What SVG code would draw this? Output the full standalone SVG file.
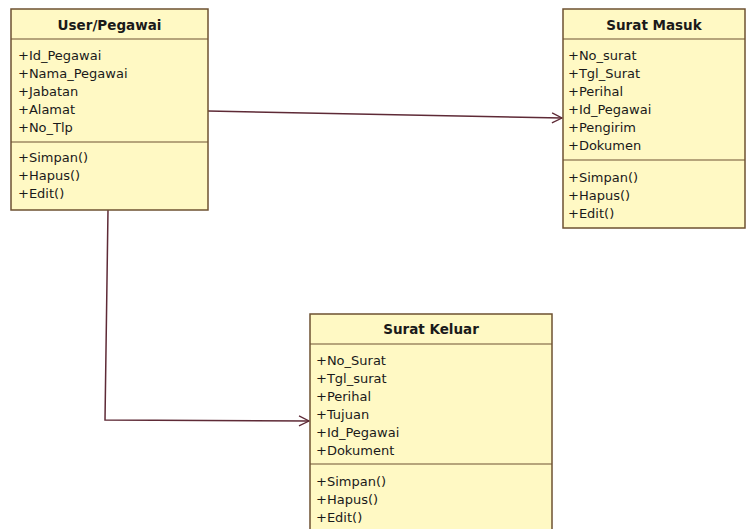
<svg xmlns="http://www.w3.org/2000/svg" width="750" height="529" viewBox="0 0 750 529">
<style>
.box{fill:#fff9c4;stroke:#6e5232;stroke-width:1.5}
.sep{stroke:#6e5232;stroke-width:1.2}
.t{font-family:"DejaVu Sans",sans-serif;font-size:13px;fill:#1a1a1a}
.h{font-family:"DejaVu Sans",sans-serif;font-size:13.5px;font-weight:bold;fill:#1a1a1a;text-anchor:middle}
.c{fill:none;stroke:#5e2a36;stroke-width:1.5}
</style>
<defs>
<marker id="arr" markerWidth="14" markerHeight="14" refX="11" refY="6" orient="auto" markerUnits="userSpaceOnUse">
<path d="M1,1 L11,6 L1,11" fill="none" stroke="#5e2a36" stroke-width="1.3"/>
</marker>
</defs>
<rect width="750" height="529" fill="#ffffff"/>
<g id="connectors">
<path class="c" d="M208,111 L562,118" marker-end="url(#arr)"/>
<path class="c" d="M108,210 L105,420 L309,421" marker-end="url(#arr)"/>
</g>
<g id="user-pegawai">
<rect class="box" x="11" y="9" width="197" height="201"/>
<line class="sep" x1="11" y1="39" x2="208" y2="39"/>
<line class="sep" x1="11" y1="142" x2="208" y2="142"/>
<text class="h" x="109.5" y="30">User/Pegawai</text>
<text class="t" x="18" y="60">+Id_Pegawai</text>
<text class="t" x="18" y="78">+Nama_Pegawai</text>
<text class="t" x="18" y="96">+Jabatan</text>
<text class="t" x="18" y="114">+Alamat</text>
<text class="t" x="18" y="132">+No_Tlp</text>
<text class="t" x="18" y="162">+Simpan()</text>
<text class="t" x="18" y="180">+Hapus()</text>
<text class="t" x="18" y="198">+Edit()</text>
</g>
<g id="surat-masuk">
<rect class="box" x="563" y="9" width="182" height="219"/>
<line class="sep" x1="563" y1="39" x2="745" y2="39"/>
<line class="sep" x1="563" y1="160" x2="745" y2="160"/>
<text class="h" x="654" y="30">Surat Masuk</text>
<text class="t" x="568" y="60">+No_surat</text>
<text class="t" x="568" y="78">+Tgl_Surat</text>
<text class="t" x="568" y="96">+Perihal</text>
<text class="t" x="568" y="114">+Id_Pegawai</text>
<text class="t" x="568" y="132">+Pengirim</text>
<text class="t" x="568" y="150">+Dokumen</text>
<text class="t" x="568" y="182">+Simpan()</text>
<text class="t" x="568" y="200">+Hapus()</text>
<text class="t" x="568" y="218">+Edit()</text>
</g>
<g id="surat-keluar">
<rect class="box" x="310" y="314" width="242" height="225"/>
<line class="sep" x1="310" y1="344" x2="552" y2="344"/>
<line class="sep" x1="310" y1="464" x2="552" y2="464"/>
<text class="h" x="431" y="334">Surat Keluar</text>
<text class="t" x="316" y="365">+No_Surat</text>
<text class="t" x="316" y="383">+Tgl_surat</text>
<text class="t" x="316" y="401">+Perihal</text>
<text class="t" x="316" y="419">+Tujuan</text>
<text class="t" x="316" y="437">+Id_Pegawai</text>
<text class="t" x="316" y="455">+Dokument</text>
<text class="t" x="316" y="486">+Simpan()</text>
<text class="t" x="316" y="504">+Hapus()</text>
<text class="t" x="316" y="522">+Edit()</text>
</g>
</svg>
